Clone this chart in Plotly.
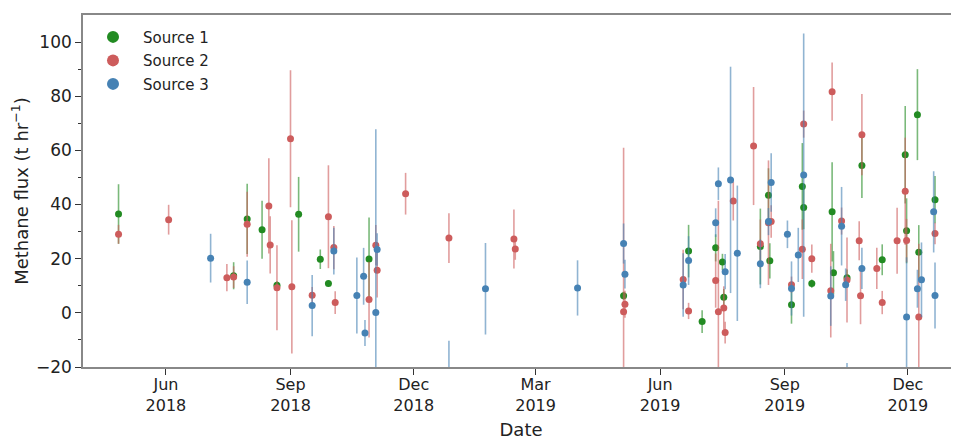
import plotly.graph_objects as go

# ---- Data ----
s1_dates = ["2018-04-27", "2018-07-21", "2018-07-31", "2018-08-11", "2018-08-22",
            "2018-09-07", "2018-09-23", "2018-09-29", "2018-10-29", "2019-05-05",
            "2019-06-22", "2019-07-02", "2019-07-12", "2019-07-17", "2019-07-18",
            "2019-08-14", "2019-08-20", "2019-08-21", "2019-09-06", "2019-09-14",
            "2019-09-15", "2019-09-21", "2019-10-06", "2019-10-07", "2019-10-17",
            "2019-10-28", "2019-11-12", "2019-11-29", "2019-11-30", "2019-12-08",
            "2019-12-09", "2019-12-21"]
s1_flux = [36.5, 13.7, 34.7, 30.7, 10.2,
           36.4, 19.8, 10.8, 19.9, 6.3,
           22.8, -3.2, 24.0, 18.8, 5.8,
           24.5, 43.4, 19.2, 3.0, 46.7,
           38.9, 10.8, 37.3, 14.8, 13.0,
           54.4, 19.6, 58.4, 30.3, 73.2,
           22.4, 41.8]
s1_err = [11.0, 5.0, 13.0, 10.7, 1.5,
          13.8, 3.6, 1.0, 15.3, 1.5,
          9.7, 4.2, 5.0, 3.0, 3.0,
          14.0, 10.0, 6.5, 7.0, 16.0,
          8.0, 1.5, 18.3, 8.0, 3.0,
          12.0, 5.7, 18.0, 12.0, 16.8,
          10.0, 8.7]

s2_dates = ["2018-04-27", "2018-06-03", "2018-07-16", "2018-07-21", "2018-07-31",
            "2018-08-16", "2018-08-17", "2018-08-22", "2018-09-01", "2018-09-02",
            "2018-09-17", "2018-09-29", "2018-10-03", "2018-10-04", "2018-10-29",
            "2018-11-03", "2018-11-04", "2018-11-25", "2018-12-27", "2019-02-13",
            "2019-02-14", "2019-05-05", "2019-05-06", "2019-06-18", "2019-06-22",
            "2019-07-12", "2019-07-14", "2019-07-18", "2019-07-19", "2019-07-25",
            "2019-08-09", "2019-08-14", "2019-08-20", "2019-08-22", "2019-09-06",
            "2019-09-14", "2019-09-15", "2019-09-21", "2019-10-05", "2019-10-06",
            "2019-10-13", "2019-10-17", "2019-10-26", "2019-10-27", "2019-10-28",
            "2019-11-08", "2019-11-12", "2019-11-23", "2019-11-29", "2019-11-30",
            "2019-12-09", "2019-12-21"]
s2_flux = [29.0, 34.4, 13.0, 13.2, 32.7,
           39.5, 25.1, 9.3, 64.3, 9.6,
           6.5, 35.5, 24.1, 3.8, 4.9,
           25.0, 15.7, 44.0, 27.6, 27.3,
           23.6, 0.4, 3.2, 12.3, 0.7,
           11.9, 0.4, 1.8, -7.3, 41.3,
           61.6, 25.5, 33.3, 33.7, 10.4,
           23.5, 69.7, 20.0, 8.2, 81.7,
           33.9, 12.1, 26.6, 6.3, 65.8,
           16.4, 3.8, 26.6, 44.9, 26.7,
           -1.5, 29.3]
s2_err = [3.5, 5.5, 5.0, 4.0, 12.0,
          17.6, 10.6, 15.7, 25.3, 24.6,
          3.0, 19.0, 8.0, 4.2, 14.0,
          7.4, 10.0, 7.7, 9.2, 10.9,
          4.0, 60.6, 5.0, 11.0, 3.0,
          10.0, 41.0, 8.0, 4.0, 7.2,
          21.8, 9.0, 23.0, 6.0, 3.0,
          11.0, 5.0, 5.2, 17.3, 10.8,
          5.0, 15.7, 7.2, 10.5, 15.0,
          7.6, 4.3, 12.2, 19.8, 8.0,
          27.0, 4.0]

s3_dates = ["2018-07-04", "2018-07-31", "2018-09-17", "2018-10-03", "2018-10-20",
            "2018-10-25", "2018-10-26", "2018-11-03", "2018-11-04", "2018-12-27",
            "2019-01-23", "2019-04-01", "2019-05-05", "2019-05-06", "2019-06-18",
            "2019-06-22", "2019-07-12", "2019-07-14", "2019-07-19", "2019-07-23",
            "2019-07-28", "2019-08-14", "2019-08-20", "2019-08-22", "2019-09-03",
            "2019-09-06", "2019-09-11", "2019-09-15", "2019-10-05", "2019-10-13",
            "2019-10-16", "2019-10-17", "2019-10-28", "2019-11-30", "2019-12-08",
            "2019-12-11", "2019-12-20", "2019-12-21"]
s3_flux = [20.2, 11.3, 2.7, 22.8, 6.4,
           13.5, -7.4, 0.1, 23.4, -32.0,
           8.9, 9.2, 25.6, 14.3, 10.3,
           19.3, 33.3, 47.7, 15.2, 49.1,
           22.0, 18.1, 33.7, 48.1, 29.0,
           9.0, 21.4, 50.9, 6.2, 32.0,
           10.4, -25.0, 16.4, -1.5, 8.9,
           12.2, 37.3, 6.4]
s3_err = [9.0, 8.0, 11.3, 8.6, 14.0,
          10.5, 4.8, 67.7, 6.0, 21.7,
          16.9, 10.2, 7.4, 5.3, 11.7,
          9.0, 5.3, 6.0, 6.5, 41.8,
          25.0, 9.0, 5.0, 10.8, 5.1,
          10.0, 10.0, 52.3, 11.0, 14.5,
          6.0, 6.5, 7.6, 22.0, 7.0,
          13.8, 15.0, 12.2]

series_names = ["Source 1", "Source 2", "Source 3"]
series_colors = ["rgb(34,139,34)", "rgb(205,92,92)", "rgb(70,130,180)"]
err_colors = ["rgba(34,139,34,0.6)", "rgba(205,92,92,0.6)", "rgba(70,130,180,0.6)"]

tick_vals = ["2018-06-01", "2018-09-01", "2018-12-01", "2019-03-01",
             "2019-06-01", "2019-09-01", "2019-12-01"]
tick_text = ["Jun<br>2018", "Sep<br>2018", "Dec<br>2018", "Mar<br>2019",
             "Jun<br>2019", "Sep<br>2019", "Dec<br>2019"]

FONT = "DejaVu Sans"

fig = go.Figure()
all_series = [(s1_dates, s1_flux, s1_err), (s2_dates, s2_flux, s2_err), (s3_dates, s3_flux, s3_err)]
for i, (d, f, e) in enumerate(all_series):
    fig.add_trace(go.Scatter(
        x=d, y=f, mode="markers", name=series_names[i], showlegend=False,
        marker=dict(color=series_colors[i], size=7, line=dict(width=0)),
        error_y=dict(type="data", array=e, visible=True, color=err_colors[i],
                     thickness=1.6, width=0),
        cliponaxis=True,
    ))
# legend entries (larger markers)
for i in range(3):
    fig.add_trace(go.Scatter(
        x=[None], y=[None], mode="markers", name=series_names[i],
        marker=dict(color=series_colors[i], size=12),
        legendgroup=series_names[i],
    ))

# The page body has an 8px default margin, so the figure is drawn 8px in from
# the window's top-left corner; size it to fill the remaining window area.
fig.update_layout(
    width=951, height=433,
    margin=dict(l=75, r=0, t=7, b=74, autoexpand=False),
    plot_bgcolor="white", paper_bgcolor="white",
    font=dict(family=FONT, size=16, color="#222"),
    showlegend=True,
    legend=dict(x=0.0, y=0.984, xanchor="left", yanchor="top",
                bgcolor="rgba(0,0,0,0)", font=dict(size=15, family=FONT),
                tracegroupgap=1, itemsizing="trace", itemwidth=50),
    xaxis=dict(
        type="date", automargin=False,
        range=["2018-03-31 18:00", "2020-01-07 17:00"],
        tickvals=tick_vals, ticktext=tick_text,
        ticks="outside", ticklen=6, tickwidth=1.2, tickcolor="#333",
        ticklabelstandoff=-4,
        showline=True, linecolor="#888", linewidth=1.6, mirror=True,
        showgrid=False, zeroline=False,
        tickfont=dict(size=16, family=FONT),
        title=dict(text="Date", font=dict(size=18, family=FONT), standoff=10),
    ),
    yaxis=dict(
        range=[-20, 110], automargin=False,
        tickvals=[-20, 0, 20, 40, 60, 80, 100],
        ticktext=["\u221220", "0", "20", "40", "60", "80", "100"],
        ticks="outside", ticklen=6, tickwidth=1.2, tickcolor="#333",
        minor=dict(tickvals=[-10, 10, 30, 50, 70, 90], ticks="outside",
                   ticklen=3, tickwidth=1, tickcolor="#333"),
        showline=True, linecolor="#888", linewidth=1.6, mirror=False,
        showgrid=False, zeroline=False,
        tickfont=dict(size=17, family=FONT),
        title=dict(text="Methane flux (t hr<sup>\u22121</sup>)",
                   font=dict(size=18, family=FONT), standoff=10),
    ),
)

fig.write_html("out.html")
